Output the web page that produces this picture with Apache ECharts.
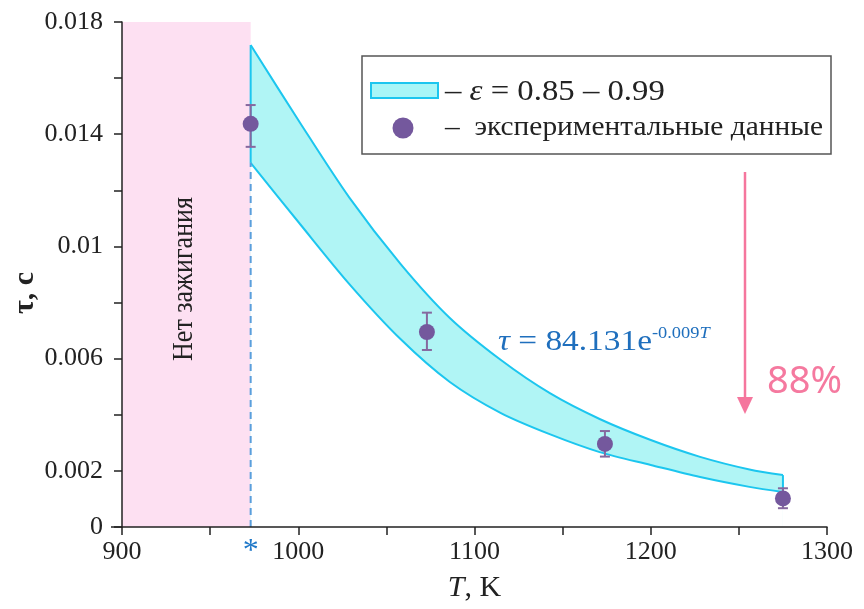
<!DOCTYPE html>
<html>
<head>
<meta charset="utf-8">
<script src="https://cdn.jsdelivr.net/npm/echarts@6/dist/echarts.min.js"></script>
<style>
  html, body { margin: 0; padding: 0; background: #fff; }
  #chart { width: 864px; height: 609px; }
</style>
</head>
<body>
<div id="chart"></div>
<script>
// band ε = 0.85 – 0.99
const bandTemps = [973, 1001, 1029, 1058, 1086, 1115, 1143, 1171, 1200, 1228, 1256, 1275]
const bandUpper = [0.01718, 0.01441, 0.01174, 0.00938, 0.00745, 0.00595, 0.00476, 0.00385, 0.0031, 0.0025, 0.00205, 0.00185]
const bandLower = [0.01298, 0.0108, 0.00866, 0.0067, 0.00517, 0.00406, 0.0033, 0.00267, 0.00221, 0.00178, 0.00143, 0.00125]

// экспериментальные данные
const expTemps = [973, 1073, 1174, 1275]
const expTau = [0.01437, 0.00695, 0.00296, 0.00102]
const expTauLow = [0.01355, 0.00631, 0.00251, 0.00067]
const expTauHigh = [0.01504, 0.00764, 0.00342, 0.00138]

const noIgnition = [900, 973]
const xLabels = [900, 1000, 1100, 1200, 1300]
const yLabels = [0, 0.002, 0.006, 0.01, 0.014, 0.018]

const serif = 'Liberation Serif'
const cyan = '#1cc6ef'
const purple = '#74589d'

const chart = echarts.init(document.getElementById('chart'))

const hasLabel = (list, v) => list.some((t) => Math.abs(t - v) < 1e-9)
const last = bandTemps.length - 1

const option = {
  animation: false,
  grid: { left: 122, right: 37, top: 22, bottom: 82, outerBoundsMode: 'none', containLabel: false },
  xAxis: {
    type: 'value',
    min: 900,
    max: 1300,
    interval: 50,
    z: 10,
    name: '{i|T}{n|, K}',
    nameLocation: 'middle',
    nameGap: 46,
    nameTextStyle: {
      rich: {
        i: { fontFamily: serif, fontSize: 30, fontStyle: 'italic', color: '#222' },
        n: { fontFamily: serif, fontSize: 30, color: '#222' }
      }
    },
    axisLine: { lineStyle: { color: '#222', width: 1.5 } },
    axisTick: { length: 8, lineStyle: { color: '#222', width: 1.5 } },
    axisLabel: {
      margin: 12,
      fontFamily: serif,
      fontSize: 26,
      color: '#222',
      formatter: (v) => (hasLabel(xLabels, v) ? String(v) : '')
    },
    splitLine: { show: false }
  },
  yAxis: {
    type: 'value',
    min: 0,
    max: 0.018,
    interval: 0.002,
    z: 10,
    axisLine: { show: true, lineStyle: { color: '#222', width: 1.5 } },
    axisTick: { show: true, length: 8, lineStyle: { color: '#222', width: 1.5 } },
    axisLabel: {
      margin: 19,
      fontFamily: serif,
      fontSize: 26,
      color: '#222',
      formatter: (v) => (hasLabel(yLabels, v) ? String(+v.toFixed(3)) : '')
    },
    splitLine: { show: false }
  },
  series: [
    {
      name: 'band-upper',
      type: 'line',
      smooth: 0.3,
      symbol: 'none',
      data: bandTemps.map((t, i) => [t, bandUpper[i]]),
      lineStyle: { color: cyan, width: 2 },
      areaStyle: { color: '#b0f5f5', opacity: 1, origin: 'start' },
      z: 2,
      markArea: {
        silent: true,
        itemStyle: { color: '#fde0f2' },
        data: [[{ xAxis: noIgnition[0] }, { xAxis: noIgnition[1] }]]
      }
    },
    {
      name: 'band-lower',
      type: 'line',
      smooth: 0.3,
      symbol: 'none',
      data: bandTemps.map((t, i) => [t, bandLower[i]]),
      lineStyle: { color: cyan, width: 2 },
      areaStyle: { color: '#ffffff', opacity: 1, origin: 'start' },
      z: 3
    },
    {
      name: 'band-left',
      type: 'line',
      symbol: 'none',
      data: [[bandTemps[0], bandLower[0]], [bandTemps[0], bandUpper[0]]],
      lineStyle: { color: cyan, width: 2 },
      z: 4
    },
    {
      name: 'band-right',
      type: 'line',
      symbol: 'none',
      data: [[bandTemps[last], bandLower[last]], [bandTemps[last], bandUpper[last]]],
      lineStyle: { color: cyan, width: 2 },
      z: 4
    },
    {
      name: 'нет зажигания',
      type: 'line',
      data: [[noIgnition[1], 0], [noIgnition[1], bandLower[0]]],
      symbol: 'none',
      lineStyle: { color: '#5a9fdc', width: 2, type: [7, 5] },
      z: 4
    },
    {
      name: 'error',
      type: 'custom',
      data: expTemps.map((t, i) => [t, expTauLow[i], expTauHigh[i]]),
      renderItem: (params, api) => {
        const lo = api.coord([api.value(0), api.value(1)])
        const hi = api.coord([api.value(0), api.value(2)])
        const w = 5
        const style = { stroke: '#86689f', lineWidth: 2 }
        return {
          type: 'group',
          children: [
            { type: 'line', shape: { x1: lo[0], y1: lo[1], x2: hi[0], y2: hi[1] }, style },
            { type: 'line', shape: { x1: lo[0] - w, y1: lo[1], x2: lo[0] + w, y2: lo[1] }, style },
            { type: 'line', shape: { x1: hi[0] - w, y1: hi[1], x2: hi[0] + w, y2: hi[1] }, style }
          ]
        }
      },
      z: 5
    },
    {
      name: 'экспериментальные данные',
      type: 'scatter',
      data: expTemps.map((t, i) => [t, expTau[i]]),
      symbol: 'circle',
      symbolSize: 16,
      itemStyle: { color: purple, opacity: 1 },
      z: 6
    }
  ]
}

chart.setOption(option)

// annotations and legend
const star = chart.convertToPixel({ gridIndex: 0 }, [noIgnition[1], 0])
const origin = chart.convertToPixel({ gridIndex: 0 }, [900, 0])

chart.setOption({
  graphic: [
    {
      type: 'line',
      z: 20,
      shape: { x1: origin[0] - 11, y1: origin[1], x2: origin[0], y2: origin[1] },
      style: { stroke: '#222', lineWidth: 1.5 }
    },
    // y axis title
    {
      type: 'text',
      z: 20,
      x: 25,
      y: 293,
      rotation: Math.PI / 2,
      style: { text: 'τ, с', fontFamily: serif, fontSize: 30, fontWeight: 'bold', fill: '#222', align: 'center', verticalAlign: 'middle' }
    },
    {
      type: 'text',
      z: 20,
      x: star[0],
      y: star[1] + 25,
      style: { text: '*', fontFamily: serif, fontSize: 32, fill: '#1f78c8', align: 'center', verticalAlign: 'middle' }
    },
    {
      type: 'text',
      z: 20,
      x: 184,
      y: 279,
      rotation: Math.PI / 2,
      scaleY: 1.12,
      style: { text: 'Нет зажигания', fontFamily: serif, fontSize: 26, fill: '#222', align: 'center', verticalAlign: 'middle' }
    },
    // legend box
    {
      type: 'rect',
      z: 20,
      shape: { x: 362, y: 56, width: 469, height: 98 },
      style: { fill: '#fff', stroke: '#555', lineWidth: 1.5 }
    },
    {
      type: 'rect',
      z: 21,
      shape: { x: 371, y: 83, width: 67, height: 15 },
      style: { fill: '#a8f6f7', stroke: cyan, lineWidth: 2 }
    },
    {
      type: 'text',
      z: 21,
      x: 445,
      y: 92,
      scaleX: 1.13,
      style: {
        text: '{n|– }{i|ε}{n| = 0.85 – 0.99}',
        verticalAlign: 'middle',
        rich: {
          n: { fontFamily: serif, fontSize: 29, fill: '#222' },
          i: { fontFamily: serif, fontSize: 29, fontStyle: 'italic', fill: '#222' }
        }
      }
    },
    {
      type: 'circle',
      z: 21,
      shape: { cx: 403, cy: 128, r: 10.5 },
      style: { fill: purple }
    },
    {
      type: 'text',
      z: 21,
      x: 445,
      y: 128,
      scaleX: 1.05,
      style: { text: '–  экспериментальные данные', fontFamily: serif, fontSize: 28, fill: '#222', verticalAlign: 'middle' }
    },
    // formula
    {
      type: 'text',
      z: 20,
      x: 498,
      y: 342,
      scaleX: 1.15,
      style: {
        text: '{t|τ}{n| = 84.131e}{s|-0.009}{si|T}',
        verticalAlign: 'middle',
        rich: {
          t: { fontFamily: serif, fontSize: 29, fontStyle: 'italic', fill: '#1f6fbd' },
          n: { fontFamily: serif, fontSize: 29, fill: '#1f6fbd' },
          s: { fontFamily: serif, fontSize: 16, fill: '#1f6fbd', padding: [0, 0, 16, 0] },
          si: { fontFamily: serif, fontSize: 16, fontStyle: 'italic', fill: '#1f6fbd', padding: [0, 0, 16, 0] }
        }
      }
    },
    // 88 % arrow
    {
      type: 'line',
      z: 20,
      shape: { x1: 745, y1: 172, x2: 745, y2: 400 },
      style: { stroke: '#f5769d', lineWidth: 2.5 }
    },
    {
      type: 'polygon',
      z: 20,
      shape: { points: [[737, 397], [753, 397], [745, 414]] },
      style: { fill: '#f5769d' }
    },
    {
      type: 'text',
      z: 20,
      x: 767,
      y: 382,
      style: { text: '88%', fontFamily: 'Noto Sans', fontSize: 38, fill: '#f5799f', verticalAlign: 'middle' }
    }
  ]
})
</script>
</body>
</html>
